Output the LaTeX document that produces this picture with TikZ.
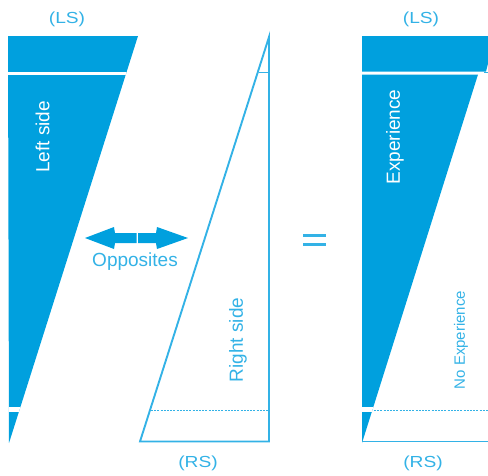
\documentclass[tikz,border=0pt]{standalone}
\usepackage{fontspec}
\setmainfont{Liberation Sans}
\definecolor{fillblue}{RGB}{0,160,222}
\definecolor{lineblue}{RGB}{51,178,230}
\begin{document}
\begin{tikzpicture}[x=1pt,y=-1pt,
  lbl/.style={text=lineblue,font=\fontsize{16}{16}\selectfont,xscale=1.2,inner sep=0},
  sidetext/.style={font=\fontsize{19}{19}\selectfont,rotate=90,inner sep=0},
  outl/.style={draw=lineblue,line width=1.9pt},
  dotln/.style={draw=lineblue,line width=1.5pt,dash pattern=on 2pt off 1.2pt},
  gapfill/.style={fill=white}]
\useasboundingbox (0,0) rectangle (488,475);
% left blue shape
\begin{scope}
  \clip (8,36) -- (138,36) -- (9,443) -- cycle;
  \fill[fillblue] (0,30) rectangle (150,450);
  \fill[gapfill] (0,71.5) rectangle (150,74.5);
  \fill[gapfill] (0,407) rectangle (150,412);
\end{scope}
% middle outline
\draw[outl,line join=miter] (269,37) -- (269,441.5) -- (140,441.5) -- cycle;
\draw[dotln] (151,410.5) -- (269,410.5);
\draw[outl] (258.5,72.5) -- (269,72.5);
% right blue shape
\fill[fillblue] (362,36) -- (495,36) -- (486,71.5) -- (362,71.5) -- cycle;
\begin{scope}
  \clip (362,74.5) -- (478,74.5) -- (362,443) -- cycle;
  \fill[fillblue] (350,70) rectangle (490,450);
  \fill[gapfill] (350,407) rectangle (490,412);
\end{scope}
\draw[outl] (362,441.5) -- (490,441.5);
\draw[dotln] (374,410.5) -- (490,410.5);
\draw[outl] (484,72.5) -- (490,72.5);
% double arrow
\fill[fillblue] (136.5,233) -- (115,233) -- (114,227) -- (85,238) -- (114,249) -- (115,243) -- (136.5,243) -- cycle;
\fill[fillblue] (138,233) -- (156,233) -- (157,227) -- (188,238) -- (157,249) -- (156,243) -- (138,243) -- cycle;
% equals
\fill[lineblue] (303,233.5) rectangle (326,236.5);
\fill[lineblue] (303,242.5) rectangle (326,245.5);
% texts
\node[lbl] (ls1) at (67,19) {(LS)};
\node[lbl] (ls2) at (421,19) {(LS)};
\node[lbl] (rs1) at (198,463) {(RS)};
\node[lbl] (rs2) at (423,463) {(RS)};
\node[sidetext,text=white] (lefts) at (42.5,137) {Left side};
\node[sidetext,text=lineblue] (rights) at (238,340) {Right side};
\node[sidetext,text=white] (exper) at (395,137) {Experience};
\node[sidetext,text=lineblue,font=\fontsize{15}{15}\selectfont] (noexp) at (461,340) {No Experience};
\node[text=lineblue,font=\fontsize{19}{19}\selectfont,inner sep=0] (opp) at (135,262) {Opposites};
\end{tikzpicture}
\end{document}
